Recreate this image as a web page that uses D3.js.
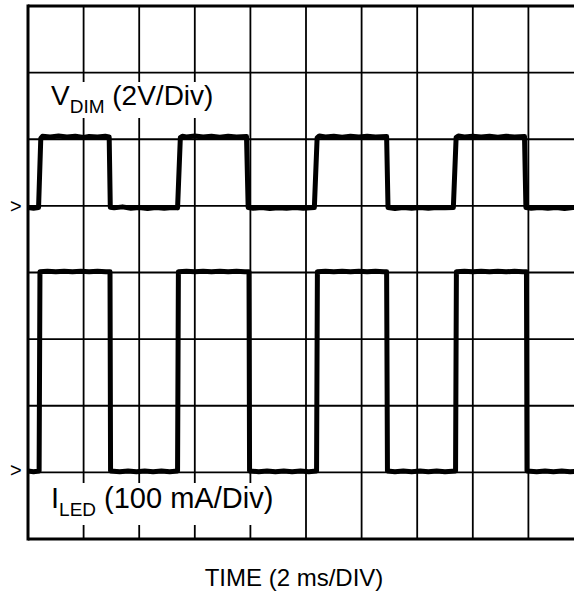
<!DOCTYPE html>
<html>
<head>
<meta charset="utf-8">
<script src="https://cdn.jsdelivr.net/npm/d3@7"></script>
<style>
  html, body { margin: 0; padding: 0; background: #fff; }
  svg { display: block; }
  text { font-family: "Liberation Sans", Arial, sans-serif; fill: #000; }
</style>
</head>
<body>
<div id="chart"></div>
<script>
// ---- Data (time in ms) ----
const timeDivisions = [0, 2, 4, 6, 8, 10, 12, 14, 16, 18, 20];   // 2 ms/div
const verticalDivisions = [-4, -3, -2, -1, 0, 1, 2, 3, 4];
const vdimOffsetDiv = 1;       // marker position of V_DIM ground
const iledOffsetDiv = -3;      // marker position of I_LED zero
const vdimVoltsPerDiv = 2;
const iledMilliampsPerDiv = 100;

// V_DIM trace [time ms, volts]
const vdimPoints = [
  [0.00,-0.05],[0.20,-0.07],[0.38,-0.05],[0.46,2.03],[0.52,2.09],[0.80,2.07],[1.10,2.10],[1.40,2.07],
  [1.70,2.09],[2.00,2.05],[2.20,2.08],[2.50,2.07],[2.78,2.09],[2.92,2.07],[2.96,-0.04],[3.10,-0.06],
  [3.40,-0.03],[3.70,-0.07],[4.00,-0.05],[4.30,-0.08],[4.60,-0.05],[4.90,-0.07],[5.20,-0.05],[5.38,-0.06],
  [5.48,2.05],[5.55,2.09],[5.70,2.07],[6.00,2.10],[6.30,2.07],[6.60,2.09],[6.90,2.06],[7.20,2.09],
  [7.50,2.07],[7.86,2.08],[7.92,-0.05],[8.10,-0.07],[8.40,-0.05],[8.70,-0.08],[9.00,-0.06],[9.30,-0.07],
  [9.60,-0.05],[9.90,-0.07],[10.30,-0.05],[10.40,2.04],[10.48,2.10],[10.70,2.07],[11.00,2.09],[11.30,2.06],
  [11.60,2.09],[11.90,2.07],[12.20,2.09],[12.50,2.07],[12.90,2.08],[12.95,-0.05],[13.20,-0.08],[13.50,-0.05],
  [13.80,-0.07],[14.10,-0.05],[14.40,-0.07],[14.70,-0.05],[15.00,-0.06],[15.30,-0.05],[15.40,2.05],[15.48,2.10],
  [15.70,2.07],[16.00,2.09],[16.30,2.07],[16.60,2.09],[16.90,2.06],[17.20,2.09],[17.50,2.07],[17.86,2.08],
  [17.91,-0.05],[18.10,-0.07],[18.40,-0.05],[18.70,-0.07],[19.00,-0.05],[19.30,-0.08],[19.60,-0.05],[20.00,-0.06]
];

// I_LED trace [time ms, mA]
const iledPoints = [
  [0.00,2],[0.20,1],[0.40,2],[0.43,301],[0.70,302],[1.00,301],[1.30,302],[1.60,301],[1.90,302],
  [2.20,301],[2.50,302],[2.80,301],[2.95,301],[2.97,2],[3.30,1],[3.60,2],[3.90,1],[4.20,2],[4.50,1],
  [4.80,2],[5.10,1],[5.38,2],[5.41,301],[5.70,302],[6.00,301],[6.30,302],[6.60,301],[6.90,302],[7.20,301],
  [7.50,302],[7.80,301],[7.95,301],[7.97,2],[8.30,1],[8.60,2],[8.90,1],[9.20,2],[9.50,1],[9.80,2],
  [10.10,1],[10.38,2],[10.41,301],[10.70,302],[11.00,301],[11.30,302],[11.60,301],[11.90,302],[12.20,301],
  [12.50,302],[12.80,301],[12.90,301],[12.93,2],[13.20,1],[13.50,2],[13.80,1],[14.10,2],[14.40,1],
  [14.70,2],[15.00,1],[15.38,2],[15.41,301],[15.70,302],[16.00,301],[16.30,302],[16.60,301],[16.90,302],
  [17.20,301],[17.50,302],[17.80,301],[17.93,301],[17.95,2],[18.30,1],[18.60,2],[18.90,1],[19.20,2],
  [19.50,1],[19.80,2],[20.00,1]
];

const vdimLabel = { main: "V", sub: "DIM", rest: " (2V/Div)" };
const iledLabel = { main: "I", sub: "LED", rest: " (100 mA/Div)" };
const timeLabel = "TIME (2 ms/DIV)";

// ---- Layout ----
const W = 574, H = 596;
const plot = { left: 28, top: 6, width: 556, height: 533 };

const svg = d3.select("#chart").append("svg")
  .attr("width", W).attr("height", H);

const x = d3.scaleLinear().domain([0, 20]).range([plot.left, plot.left + plot.width]);
const y = d3.scaleLinear().domain([-4, 4]).range([plot.top + plot.height, plot.top]);

// grid
const grid = svg.append("g");
grid.selectAll("line.v").data(timeDivisions.slice(1)).join("line")
  .attr("x1", d => x(d)).attr("x2", d => x(d))
  .attr("y1", y(4)).attr("y2", y(-4))
  .attr("stroke", "#000").attr("stroke-width", 1.8);
grid.selectAll("line.h").data(verticalDivisions.slice(1, -1)).join("line")
  .attr("x1", x(0)).attr("x2", x(20))
  .attr("y1", d => y(d)).attr("y2", d => y(d))
  .attr("stroke", "#000").attr("stroke-width", 1.8);
// border
grid.append("line").attr("x1", x(0)).attr("x2", x(0)).attr("y1", y(4) - 1.5).attr("y2", y(-4) + 1.5)
  .attr("stroke", "#000").attr("stroke-width", 3);
grid.append("line").attr("x1", x(0)).attr("x2", x(20)).attr("y1", y(4)).attr("y2", y(4))
  .attr("stroke", "#000").attr("stroke-width", 3);
grid.append("line").attr("x1", x(0)).attr("x2", x(20)).attr("y1", y(-4)).attr("y2", y(-4))
  .attr("stroke", "#000").attr("stroke-width", 3);

// labels with white background
function label(obj, lx, ly, box, size, subSize) {
  svg.append("rect").attr("x", box[0]).attr("y", box[1]).attr("width", box[2]).attr("height", box[3])
    .attr("fill", "#fff");
  const t = svg.append("text").attr("x", lx).attr("y", ly).style("font-size", size + "px");
  t.append("tspan").text(obj.main);
  t.append("tspan").text(obj.sub).style("font-size", subSize + "px").attr("dy", 8);
  t.append("tspan").text(obj.rest).attr("dy", -8);
}
label(vdimLabel, 51, 105, [46, 82, 180, 36], 28, 19);
label(iledLabel, 51, 508, [46, 483, 234, 42], 29, 19);

// traces
const vdimLine = d3.line().x(d => x(d[0])).y(d => y(vdimOffsetDiv + d[1] / vdimVoltsPerDiv));
const iledLine = d3.line().x(d => x(d[0])).y(d => y(iledOffsetDiv + d[1] / iledMilliampsPerDiv));

svg.append("path").attr("d", vdimLine(vdimPoints))
  .attr("fill", "none").attr("stroke", "#000").attr("stroke-width", 5).attr("stroke-linejoin", "round");
svg.append("path").attr("d", iledLine(iledPoints))
  .attr("fill", "none").attr("stroke", "#000").attr("stroke-width", 5).attr("stroke-linejoin", "round");

// ground markers
svg.append("text").attr("x", 10).attr("y", y(vdimOffsetDiv) + 7).style("font-size", "20px").text(">");
svg.append("text").attr("x", 10).attr("y", y(iledOffsetDiv) + 5).style("font-size", "20px").text(">");

// time label
svg.append("text").attr("x", 294).attr("y", 586).attr("text-anchor", "middle")
  .style("font-size", "24px").text(timeLabel);
</script>
</body>
</html>
